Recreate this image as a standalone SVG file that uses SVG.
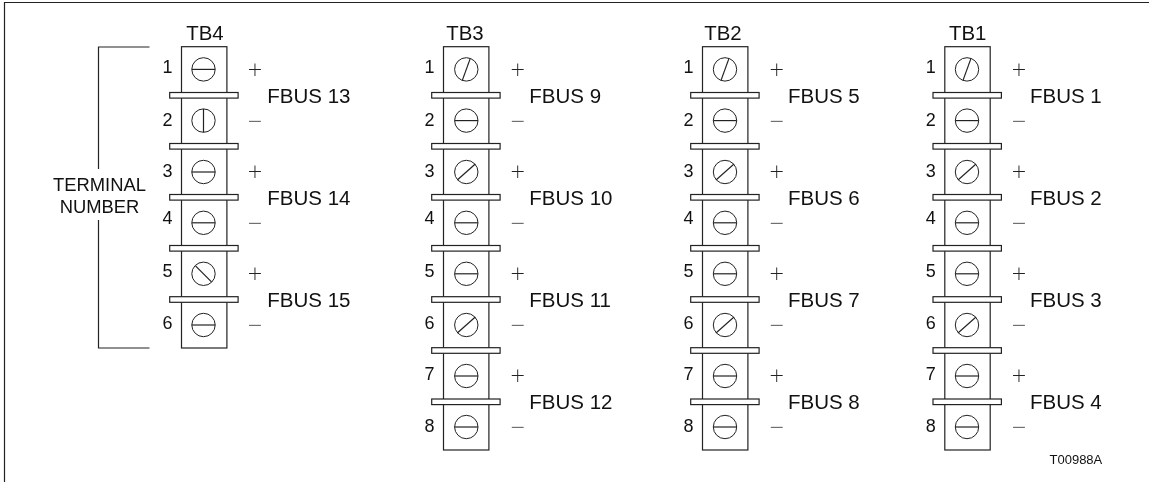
<svg xmlns="http://www.w3.org/2000/svg" width="1149" height="482" viewBox="0 0 1149 482">
<style>
text{font-family:"Liberation Sans",Arial,sans-serif;fill:#111;filter:url(#g)}
.t{font-size:20.4px;text-anchor:middle}
.n{font-size:18px;text-anchor:middle}
.f{font-size:20.5px}
text.p{font-family:"DejaVu Sans",sans-serif;font-weight:200;font-size:19px;text-anchor:middle;fill:#222}
.l{font-size:18.4px;text-anchor:middle}
.b{fill:#fff;stroke:#222;stroke-width:1.2}
.ln{fill:none;stroke:#222;stroke-width:1.2}
</style>
<defs>
<filter id="g" color-interpolation-filters="sRGB"><feOffset dx="0" dy="0"/></filter>
<circle id="c" r="11.7" fill="#fff" stroke="#222" stroke-width="1"/>
<g id="h"><use href="#c"/><path class="ln" d="M-11.7 0H11.7"/></g>
<g id="v"><use href="#c"/><path class="ln" d="M0 -11.7V11.7"/></g>
<g id="a"><use href="#c"/><path class="ln" d="M-4 11L4 -11"/></g>
<g id="d"><use href="#c"/><path class="ln" d="M-9 8L9 -8"/></g>
<g id="r"><use href="#c"/><path class="ln" d="M-8 -8L8 8"/></g>
<rect id="bar" class="b" x="169.7" y="0" width="68.4" height="5.6"/>
</defs>
<path class="ln" d="M4.5 482V2.5H1149"/>
<g id="connectors">
<path class="ln" d="M149.5 47H98.5V169M98.5 220V348H149.5"/>
</g>
<text class="l" x="99.5" y="191">TERMINAL</text>
<text class="l" x="99.5" y="212.5">NUMBER</text>
<g id="TB4">
<rect class="b" x="181.5" y="46.7" width="45.4" height="301.3"/>
<use href="#bar" y="92.5"/><use href="#bar" y="143.5"/><use href="#bar" y="194.5"/><use href="#bar" y="245.5"/><use href="#bar" y="296.7"/>
<use href="#h" x="203.5" y="69.4"/><use href="#v" x="203.5" y="120.6"/><use href="#h" x="203.5" y="172"/><use href="#h" x="203.5" y="222.8"/><use href="#r" x="203.5" y="273.8"/><use href="#h" x="203.5" y="325"/>
<text class="t" x="205" y="39.5">TB4</text>
<text class="n" x="167.5" y="73">1</text><text class="n" x="167.5" y="126">2</text><text class="n" x="167.5" y="177">3</text><text class="n" x="167.5" y="224">4</text><text class="n" x="167.5" y="276.7">5</text><text class="n" x="167.5" y="329">6</text>
<text class="p" x="255" y="75.5">+</text><text class="p" x="255" y="126.5">−</text><text class="p" x="255" y="178">+</text><text class="p" x="255" y="229">−</text><text class="p" x="255" y="279.5">+</text><text class="p" x="255" y="331">−</text>
<text class="f" x="267.3" y="103">FBUS 13</text><text class="f" x="267.3" y="204.5">FBUS 14</text><text class="f" x="267.3" y="306.7">FBUS 15</text>
</g>
<g id="TB3" transform="translate(262 0)">
<rect class="b" x="181.5" y="46.7" width="45.4" height="403.3"/>
<use href="#bar" y="92.5"/><use href="#bar" y="143.5"/><use href="#bar" y="194.5"/><use href="#bar" y="245.5"/><use href="#bar" y="296.7"/><use href="#bar" y="347.7"/><use href="#bar" y="399"/>
<use href="#a" x="204.3" y="69.4"/><use href="#h" x="204.3" y="120.6"/><use href="#d" x="204.3" y="172"/><use href="#h" x="204.3" y="222.8"/><use href="#h" x="204.3" y="273.8"/><use href="#d" x="204.3" y="325"/><use href="#h" x="204.3" y="376"/><use href="#h" x="204.3" y="427"/>
<text class="t" x="203" y="39.5">TB3</text>
<text class="n" x="167.5" y="73">1</text><text class="n" x="167.5" y="126">2</text><text class="n" x="167.5" y="177">3</text><text class="n" x="167.5" y="224">4</text><text class="n" x="167.5" y="276.7">5</text><text class="n" x="167.5" y="329">6</text><text class="n" x="167.5" y="380">7</text><text class="n" x="167.5" y="432">8</text>
<text class="p" x="255.7" y="75.5">+</text><text class="p" x="255.7" y="126.5">−</text><text class="p" x="255.7" y="178">+</text><text class="p" x="255.7" y="229">−</text><text class="p" x="255.7" y="279.5">+</text><text class="p" x="255.7" y="331">−</text><text class="p" x="255.7" y="382">+</text><text class="p" x="255.7" y="433">−</text>
<text class="f" x="267.3" y="103">FBUS 9</text><text class="f" x="267.3" y="204.5">FBUS 10</text><text class="f" x="267.3" y="306.7">FBUS 11</text><text class="f" x="267.3" y="409">FBUS 12</text>
</g>
<g id="TB2" transform="translate(521 0)">
<rect class="b" x="181.5" y="46.7" width="45.4" height="403.3"/>
<use href="#bar" y="92.5"/><use href="#bar" y="143.5"/><use href="#bar" y="194.5"/><use href="#bar" y="245.5"/><use href="#bar" y="296.7"/><use href="#bar" y="347.7"/><use href="#bar" y="399"/>
<use href="#a" x="204" y="69.4"/><use href="#h" x="204" y="120.6"/><use href="#d" x="204" y="172"/><use href="#h" x="204" y="222.8"/><use href="#h" x="204" y="273.8"/><use href="#d" x="204" y="325"/><use href="#h" x="204" y="376"/><use href="#h" x="204" y="427"/>
<text class="t" x="202" y="39.5">TB2</text>
<text class="n" x="167.5" y="73">1</text><text class="n" x="167.5" y="126">2</text><text class="n" x="167.5" y="177">3</text><text class="n" x="167.5" y="224">4</text><text class="n" x="167.5" y="276.7">5</text><text class="n" x="167.5" y="329">6</text><text class="n" x="167.5" y="380">7</text><text class="n" x="167.5" y="432">8</text>
<text class="p" x="255.7" y="75.5">+</text><text class="p" x="255.7" y="126.5">−</text><text class="p" x="255.7" y="178">+</text><text class="p" x="255.7" y="229">−</text><text class="p" x="255.7" y="279.5">+</text><text class="p" x="255.7" y="331">−</text><text class="p" x="255.7" y="382">+</text><text class="p" x="255.7" y="433">−</text>
<text class="f" x="267" y="103">FBUS 5</text><text class="f" x="267" y="204.5">FBUS 6</text><text class="f" x="267" y="306.7">FBUS 7</text><text class="f" x="267" y="409">FBUS 8</text>
</g>
<g id="TB1" transform="translate(763.3 0)">
<rect class="b" x="181.5" y="46.7" width="45.4" height="403.3"/>
<use href="#bar" y="92.5"/><use href="#bar" y="143.5"/><use href="#bar" y="194.5"/><use href="#bar" y="245.5"/><use href="#bar" y="296.7"/><use href="#bar" y="347.7"/><use href="#bar" y="399"/>
<use href="#a" x="203.7" y="69.4"/><use href="#h" x="203.7" y="120.6"/><use href="#d" x="203.7" y="172"/><use href="#h" x="203.7" y="222.8"/><use href="#h" x="203.7" y="273.8"/><use href="#d" x="203.7" y="325"/><use href="#h" x="203.7" y="376"/><use href="#h" x="203.7" y="427"/>
<text class="t" x="204.4" y="39.5">TB1</text>
<text class="n" x="167.5" y="73">1</text><text class="n" x="167.5" y="126">2</text><text class="n" x="167.5" y="177">3</text><text class="n" x="167.5" y="224">4</text><text class="n" x="167.5" y="276.7">5</text><text class="n" x="167.5" y="329">6</text><text class="n" x="167.5" y="380">7</text><text class="n" x="167.5" y="432">8</text>
<text class="p" x="255.7" y="75.5">+</text><text class="p" x="255.7" y="126.5">−</text><text class="p" x="255.7" y="178">+</text><text class="p" x="255.7" y="229">−</text><text class="p" x="255.7" y="279.5">+</text><text class="p" x="255.7" y="331">−</text><text class="p" x="255.7" y="382">+</text><text class="p" x="255.7" y="433">−</text>
<text class="f" x="266.7" y="103">FBUS 1</text><text class="f" x="266.7" y="204.5">FBUS 2</text><text class="f" x="266.7" y="306.7">FBUS 3</text><text class="f" x="266.7" y="409">FBUS 4</text>
</g>
<text x="1049.5" y="463.5" font-size="13">T00988A</text>
</svg>
